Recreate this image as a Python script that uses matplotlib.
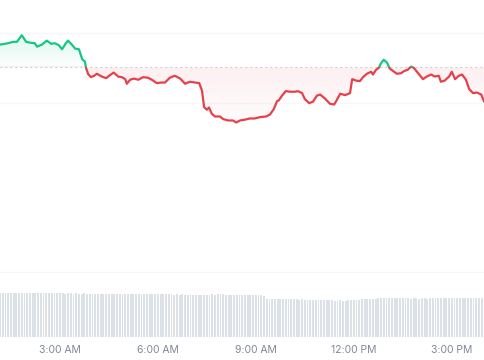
import matplotlib.pyplot as plt
import numpy as np
from matplotlib.colors import to_rgb

plt.rcParams['font.family'] = ['Inter', 'DejaVu Sans']

# price trace (time as HH:MM, price in USD)
times = ['01:10', '01:25', '01:34', '01:41', '01:50', '01:58', '02:05', '02:14', '02:18', '02:27',
         '02:36', '02:44', '02:51', '02:58', '03:04', '03:11', '03:15', '03:22', '03:28', '03:35',
         '03:41', '03:46', '03:48', '03:52', '03:57', '04:03', '04:08', '04:17', '04:25', '04:32',
         '04:39', '04:47', '04:54', '05:00', '05:03', '05:09', '05:16', '05:24', '05:33', '05:42',
         '05:49', '05:58', '06:06', '06:13', '06:22', '06:31', '06:41', '06:50', '06:59', '07:08',
         '07:16', '07:21', '07:25', '07:30', '07:34', '07:39', '07:45', '07:54', '08:00', '08:09',
         '08:18', '08:24', '08:31', '08:40', '08:49', '08:58', '09:08', '09:19', '09:26', '09:33',
         '09:39', '09:42', '09:48', '09:55', '10:03', '10:12', '10:17', '10:25', '10:30', '10:38',
         '10:45', '10:52', '10:58', '11:07', '11:16', '11:24', '11:29', '11:35', '11:44', '11:53',
         '11:57', '12:04', '12:11', '12:17', '12:24', '12:32', '12:35', '12:41', '12:46', '12:50',
         '12:55', '13:01', '13:06', '13:14', '13:19', '13:27', '13:32', '13:39', '13:45', '13:50',
         '13:58', '14:07', '14:14', '14:22', '14:29', '14:36', '14:40', '14:47', '14:55', '15:00',
         '15:06', '15:13', '15:19', '15:26', '15:32', '15:39', '15:46', '15:54', '15:59']
prices = [27114, 27121, 27128, 27128, 27161, 27128, 27124, 27121, 27104, 27114,
          27134, 27118, 27121, 27111, 27091, 27121, 27134, 27114, 27094, 27091,
          27041, 27029, 26998, 26966, 26951, 26958, 26968, 26954, 26946, 26961,
          26974, 26954, 26951, 26941, 26918, 26938, 26944, 26938, 26951, 26948,
          26938, 26921, 26924, 26924, 26948, 26958, 26944, 26918, 26928, 26924,
          26921, 26884, 26801, 26788, 26799, 26768, 26754, 26754, 26741, 26734,
          26734, 26724, 26734, 26738, 26744, 26744, 26751, 26754, 26764, 26791,
          26831, 26834, 26858, 26881, 26878, 26878, 26881, 26871, 26841, 26821,
          26828, 26858, 26864, 26844, 26818, 26814, 26838, 26868, 26861, 26871,
          26941, 26934, 26931, 26951, 26968, 26978, 26964, 26988, 26998, 27021,
          27038, 27024, 26994, 26978, 26968, 26971, 26981, 26988, 27004, 26998,
          26971, 26941, 26954, 26964, 26954, 26958, 26928, 26934, 26954, 26978,
          26941, 26958, 26964, 26938, 26891, 26871, 26874, 26864, 26831]
open_price = 27000

# 24h volume (billions USD), one bar every 5 minutes from 01:10
vol_start = '01:10'
volumes = [21.9, 22.0, 21.8, 22.0, 21.9, 21.9, 22.0, 21.8, 21.9, 22.0, 21.9, 21.8,
           21.9, 21.9, 22.0, 21.8, 21.9, 21.8, 21.9, 21.9, 21.8, 21.9, 21.8, 21.9,
           21.7, 21.8, 21.8, 21.7, 21.8, 21.7, 21.7, 21.8, 21.6, 21.7, 21.7, 21.6,
           21.7, 21.6, 21.6, 21.7, 21.6, 21.5, 21.6, 21.6, 21.5, 21.6, 21.5, 21.5,
           21.5, 21.4, 21.5, 21.4, 21.4, 21.5, 21.4, 21.3, 21.4, 21.4, 21.3, 21.4,
           21.3, 21.3, 21.4, 21.3, 21.2, 21.3, 21.2, 21.3, 21.2, 21.2, 21.1, 21.2,
           21.2, 21.1, 21.2, 21.1, 21.1, 21.2, 21.3, 21.2, 21.3, 21.4, 21.3, 21.2,
           21.1, 21.0, 21.1, 21.0, 21.0, 20.9, 21.0, 20.9, 20.9, 20.8, 20.9, 20.8,
           20.8, 20.7, 19.2, 19.0, 18.9, 18.9, 19.0, 18.9, 18.8, 18.9, 18.8, 18.8,
           18.9, 18.8, 18.7, 18.8, 18.7, 18.7, 18.6, 18.7, 18.6, 18.6, 18.5, 18.6,
           18.4, 18.3, 18.3, 18.2, 18.2, 18.3, 18.2, 18.2, 18.3, 18.4, 18.5, 18.6,
           18.7, 18.8, 18.9, 19.0, 19.1, 19.1, 19.2, 19.3, 19.4, 19.3, 19.4, 19.4,
           19.3, 19.4, 19.3, 19.3, 19.4, 19.3, 19.3, 19.2, 19.3, 19.3, 19.2, 19.3,
           19.3, 19.2, 19.3, 19.4, 19.3, 19.3, 19.4, 19.3, 19.3, 19.4, 19.3, 19.4,
           19.4, 19.3, 19.4, 19.3, 19.3, 19.4, 19.4, 19.3, 19.4, 19.4]

tick_hours = [3, 6, 9, 12, 15]
tick_labels = ['3:00 AM', '6:00 AM', '9:00 AM', '12:00 PM', '3:00 PM']


def to_min(s):
    h, m = s.split(':')
    return int(h) * 60 + int(m)


t = np.array([to_min(s) for s in times], dtype=float)
p = np.array(prices, dtype=float)
vt = to_min(vol_start) + 5 * np.arange(len(volumes))

GREEN = '#16c784'
RED = '#e8404b'
x0, x1 = 70, 961

fig = plt.figure(figsize=(4.85, 3.6), dpi=100)
ax = fig.add_axes([0, 87 / 360, 1, 273 / 360])
axv = fig.add_axes([0, 23 / 360, 1, 64 / 360])

ylo, yhi = 25970, 27337.5
ax.axis('off')

# faint grid
for gl in [27172, 26822]:
    ax.axhline(gl, color='#f6f7f8', lw=0.9, zorder=0)
ax.axhline(ylo + 4, color='#f4f5f7', lw=0.9, zorder=0)

# gradient fills clipped to the area between the line and the open price
fill = ax.fill_between(t, p, open_price, facecolor='none', edgecolor='none')
clip = fill.get_paths()[0]

g = np.zeros((100, 1, 4))
g[:, 0, :3] = to_rgb(GREEN)
g[:, 0, 3] = np.linspace(0.01, 0.15, 100)
im = ax.imshow(g, extent=[x0, x1, open_price, p.max()], origin='lower',
               aspect='auto', zorder=1)
im.set_clip_path(clip, transform=ax.transData)

r = np.zeros((100, 1, 4))
r[:, 0, :3] = to_rgb(RED)
r[:, 0, 3] = np.linspace(0.02, 0.08, 100)
im2 = ax.imshow(r, extent=[x0, x1, p.min(), open_price], origin='lower',
                aspect='auto', zorder=1)
im2.set_clip_path(clip, transform=ax.transData)
ax.set_xlim(x0, x1)
ax.set_ylim(ylo, yhi)

ax.axhline(open_price, color='#c4c9d1', lw=0.8, ls=(0, (1.5, 3)), zorder=2)

# line: green above open, red below
above = plt.Rectangle((x0, open_price), x1 - x0, yhi - open_price, transform=ax.transData)
below = plt.Rectangle((x0, ylo), x1 - x0, open_price - ylo, transform=ax.transData)
lg, = ax.plot(t, p, color=GREEN, lw=1.6, zorder=3, solid_joinstyle='round')
lg.set_clip_path(above)
lr, = ax.plot(t, p, color=RED, lw=1.6, zorder=3, solid_joinstyle='round')
lr.set_clip_path(below)

# volume bars
axv.bar(vt, volumes, width=3.4, color='#dce0e7', align='center')
axv.set_xlim(x0, x1)
axv.set_ylim(0, 32)
for s in axv.spines.values():
    s.set_visible(False)
axv.set_yticks([])
axv.set_xticks([h * 60 for h in tick_hours])
axv.set_xticklabels(tick_labels, fontsize=7.5, color='#808896')
axv.tick_params(axis='x', length=0, pad=6)

fig.savefig('out.png', dpi=100)
